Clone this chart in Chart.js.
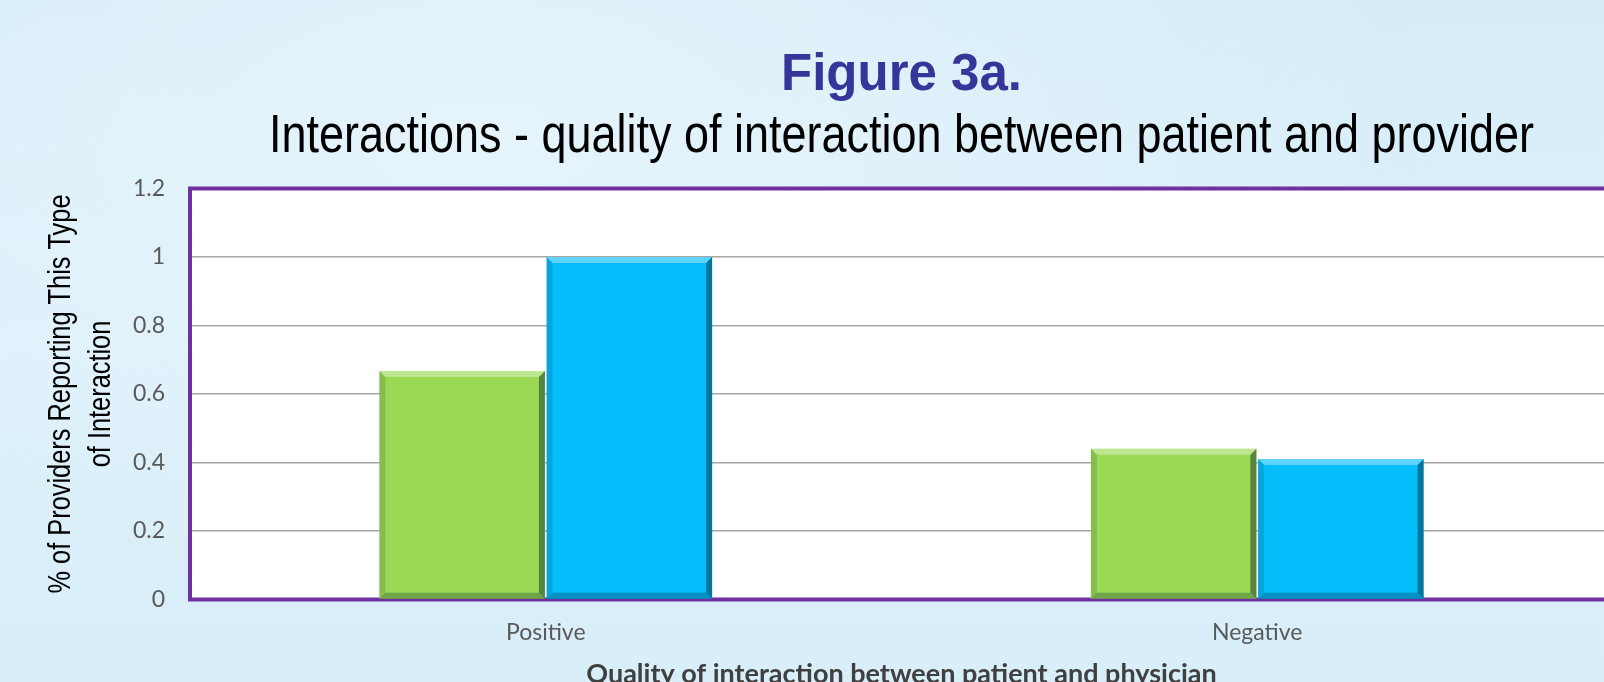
<!DOCTYPE html>
<html>
<head>
<meta charset="utf-8">
<script src="https://cdn.jsdelivr.net/npm/chart.js@4"></script>
<style>
  html, body { margin: 0; padding: 0; width: 1604px; height: 682px; overflow: hidden; }
  body {
    background:
      radial-gradient(ellipse at 30% 20%, rgba(255,255,255,0.35), rgba(255,255,255,0) 60%),
      linear-gradient(180deg, #d6edf8 0%, #dcf0fa 50%, #d8eef8 100%);
  }
  #wrap { position: absolute; left: 0; top: 0; width: 1613px; height: 700px; }
</style>
</head>
<body>
<div id="wrap"><canvas id="chart"></canvas></div>
<script>
const categories = ['Positive', 'Negative'];
const seriesGreen = [0.667, 0.44];
const seriesBlue = [1.0, 0.41];
const yTicks = [0, 0.2, 0.4, 0.6, 0.8, 1, 1.2];

const subtitleText = 'Interactions - quality of interaction between patient and provider';
const yTitleLines = ['% of Providers Reporting This Type', 'of Interaction'];

const purple = '#7030a0';
const sansFamily = '"Liberation Sans", Arial, sans-serif';

// white plot area + purple frame (top runs off the right edge, no right side)
const frame = {
  id: 'frame',
  beforeDraw(chart) {
    const {ctx, chartArea: a} = chart;
    ctx.save();
    ctx.fillStyle = '#ffffff';
    ctx.fillRect(a.left, a.top, chart.width - a.left, a.bottom - a.top);
    ctx.restore();
  },
  beforeDatasetsDraw(chart) {
    const {ctx, chartArea: a} = chart;
    ctx.save();
    ctx.strokeStyle = purple;
    ctx.lineWidth = 4;
    ctx.beginPath();
    ctx.moveTo(chart.width, a.top);
    ctx.lineTo(a.left, a.top);
    ctx.lineTo(a.left, a.bottom);
    ctx.lineTo(chart.width, a.bottom);
    ctx.stroke();
    ctx.restore();
  }
};

// office style bevel on the bars
const bevel = {
  id: 'bevel',
  afterDatasetsDraw(chart) {
    const ctx = chart.ctx;
    const poly = (pts, fill) => {
      ctx.beginPath();
      ctx.moveTo(pts[0][0], pts[0][1]);
      pts.slice(1).forEach(p => ctx.lineTo(p[0], p[1]));
      ctx.closePath();
      ctx.fillStyle = fill;
      ctx.fill();
    };
    ctx.save();
    chart.data.datasets.forEach((ds, di) => {
      chart.getDatasetMeta(di).data.forEach(bar => {
        const {x, y, base, width} = bar.getProps(['x', 'y', 'base', 'width'], true);
        const l = x - width / 2, r = x + width / 2, t = y, b = base, d = 6;
        poly([[l, t], [r, t], [r - d, t + d], [l + d, t + d]], 'rgba(255,255,255,0.35)');
        poly([[r, t], [r, b], [r - d, b - d], [r - d, t + d]], 'rgba(0,30,40,0.45)');
        poly([[l, b], [r, b], [r - d, b - d], [l + d, b - d]], 'rgba(0,30,40,0.28)');
        poly([[l, t], [l + d, t + d], [l + d, b - d], [l, b]], 'rgba(0,30,40,0.14)');
      });
    });
    ctx.restore();
  }
};

// condensed (narrow) texts: no narrow font installed, so squeeze Liberation Sans
const narrowText = {
  id: 'narrowText',
  afterDraw(chart) {
    const {ctx, chartArea: a} = chart;
    ctx.save();
    ctx.fillStyle = '#000000';
    ctx.textAlign = 'center';
    ctx.textBaseline = 'alphabetic';

    // subtitle
    ctx.font = '54px ' + sansFamily;
    let sx = 1265 / ctx.measureText(subtitleText).width;
    ctx.save();
    ctx.translate((a.left + a.right) / 2, a.top - 36.8);
    ctx.scale(sx, 1);
    ctx.fillText(subtitleText, 0, 0);
    ctx.restore();

    // y axis title, two lines
    ctx.font = '32px ' + sansFamily;
    sx = 399 / ctx.measureText(yTitleLines[0]).width;
    const yc = (a.top + a.bottom) / 2;
    yTitleLines.forEach((line, i) => {
      ctx.save();
      ctx.translate(a.left - 120 + i * 40, yc);
      ctx.rotate(-Math.PI / 2);
      ctx.scale(sx, 1);
      ctx.fillText(line, 0, 0);
      ctx.restore();
    });
    ctx.restore();
  }
};

new Chart(document.getElementById('chart'), {
  type: 'bar',
  data: {
    labels: categories,
    datasets: [
      { label: 'Series 1', data: seriesGreen, backgroundColor: '#9bd955' },
      { label: 'Series 2', data: seriesBlue, backgroundColor: '#06bdfc' }
    ]
  },
  options: {
    responsive: true,
    maintainAspectRatio: false,
    animation: false,
    layout: { padding: { left: 4, right: 0, top: 0, bottom: 0 } },
    datasets: { bar: { categoryPercentage: 0.47, barPercentage: 0.99 } },
    plugins: {
      legend: { display: false },
      tooltip: { enabled: false },
      title: {
        display: true,
        fullSize: false,
        text: 'Figure 3a.',
        color: '#37359a',
        font: { family: sansFamily, size: 51, weight: 'bold', lineHeight: 1 },
        padding: { top: 50, bottom: 87.5 }
      }
    },
    scales: {
      x: {
        afterFit(s) { s.height = 100.5; },
        grid: { display: false, drawTicks: false },
        border: { display: false },
        ticks: { color: '#595959', padding: 19, font: { family: 'Lato, sans-serif', size: 23 } },
        title: {
          display: true,
          text: 'Quality of interaction between patient and physician',
          color: '#404040',
          font: { family: 'Lato, sans-serif', size: 27, weight: 'bold', lineHeight: 1.2 },
          padding: { top: 0, bottom: 10 }
        }
      },
      y: {
        min: 0,
        max: 1.2,
        afterFit(s) { s.width = 186; },
        afterBuildTicks(s) { s.ticks = yTicks.map(v => ({ value: v })); },
        grid: { color: '#a6a6a6', lineWidth: 1.5, drawTicks: false },
        border: { display: false },
        ticks: {
          color: '#595959',
          padding: 25,
          font: { family: 'Lato, sans-serif', size: 23 },
          callback: v => String(+v.toFixed(1))
        }
      }
    }
  },
  plugins: [frame, bevel, narrowText]
});
</script>
</body>
</html>
